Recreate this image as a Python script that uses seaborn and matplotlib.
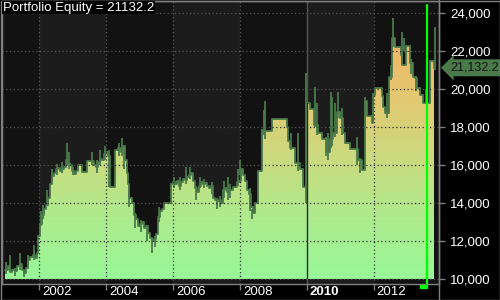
import numpy as np
import pandas as pd
import matplotlib
matplotlib.use("Agg")
import matplotlib.pyplot as plt
import seaborn as sns
from matplotlib.colors import LinearSegmentedColormap
from matplotlib.patches import Rectangle
from matplotlib.lines import Line2D
from matplotlib import transforms

# ---------------- data ----------------
years = [2000.97, 2001.06, 2001.12, 2001.18, 2001.27, 2001.33, 2001.42, 2001.48, 2001.54, 2001.60,
         2001.66, 2001.72, 2001.81, 2001.87, 2001.93, 2001.96, 2002.01, 2002.07, 2002.13, 2002.19,
         2002.25, 2002.31, 2002.37, 2002.43, 2002.49, 2002.55, 2002.61, 2002.67, 2002.73, 2002.79,
         2002.85, 2002.91, 2002.97, 2003.03, 2003.09, 2003.15, 2003.27, 2003.42, 2003.63, 2003.69,
         2003.75, 2003.81, 2003.87, 2003.93, 2003.99, 2004.05, 2004.11, 2004.26, 2004.35, 2004.44,
         2004.50, 2004.56, 2004.62, 2004.65, 2004.68, 2004.77, 2004.83, 2004.89, 2004.95, 2005.01,
         2005.07, 2005.13, 2005.19, 2005.25, 2005.30, 2005.36, 2005.42, 2005.48, 2005.54, 2005.60,
         2005.66, 2005.72, 2005.93, 2005.99, 2006.05, 2006.11, 2006.17, 2006.23, 2006.29, 2006.35,
         2006.41, 2006.47, 2006.53, 2006.59, 2006.65, 2006.71, 2006.77, 2006.83, 2006.89, 2006.95,
         2007.01, 2007.07, 2007.13, 2007.19, 2007.25, 2007.31, 2007.37, 2007.43, 2007.49, 2007.55,
         2007.61, 2007.67, 2007.79, 2007.90, 2007.96, 2008.02, 2008.08, 2008.14, 2008.20, 2008.26,
         2008.32, 2008.38, 2008.44, 2008.53, 2008.65, 2008.95, 2009.40, 2009.43, 2009.49, 2009.64,
         2009.79, 2009.88, 2010.00, 2010.09, 2010.21, 2010.33, 2010.45, 2010.60, 2010.69, 2010.78,
         2010.90, 2010.98, 2011.07, 2011.13, 2011.28, 2011.52, 2011.64, 2011.73, 2011.79, 2011.94,
         2011.97, 2012.03, 2012.24, 2012.27, 2012.33, 2012.45, 2012.54, 2012.63, 2012.81, 2012.84,
         2012.96, 2013.08, 2013.17, 2013.23, 2013.29, 2013.38, 2013.47, 2013.68, 2013.80]
equity = [10500, 10700, 10400, 10500, 10450, 10700, 10800, 10500, 10350, 10600,
          11000, 11150, 11300, 11100, 11400, 12300, 12900, 13400, 13700, 13900,
          14300, 15000, 15450, 15600, 15800, 15850, 15700, 15800, 15900, 16300,
          16100, 16000, 15700, 15550, 15700, 16000, 15650, 16250, 16000, 15900,
          16200, 16350, 16300, 16600, 16700, 16500, 14850, 16800, 16900, 16700,
          17000, 16300, 15600, 15000, 14300, 14000, 13400, 13200, 12800, 12900,
          13000, 12700, 12800, 12450, 12200, 12000, 12100, 12400, 13300, 13600,
          13700, 14000, 15000, 15100, 15000, 15200, 14900, 15100, 15300, 15250,
          15400, 15500, 15600, 15200, 14800, 14600, 14900, 15100, 15000, 15050,
          14900, 14800, 14900, 14300, 14200, 14100, 14200, 14000, 14700, 14800,
          14600, 14700, 14850, 15100, 15200, 15800, 15500, 15200, 14700, 14500,
          13800, 13500, 14000, 15700, 17800, 18450, 18000, 17300, 16900, 16100,
          15800, 14850, 19300, 18950, 18100, 17700, 17400, 16700, 17400, 17680,
          18800, 18500, 17680, 17200, 16840, 16300, 15740, 19400, 18600, 18250,
          19700, 20050, 19630, 19050, 18740, 20630, 22700, 22200, 21800, 21260,
          22300, 21370, 20630, 20580, 20050, 19680, 19260, 21470, 21132.2]

# intrabar ranges (dark green spikes)
spike_years = [2001.00, 2001.12, 2001.27, 2001.42, 2001.54, 2001.66, 2001.84, 2002.04, 2002.10, 2002.22,
               2002.37, 2002.52, 2002.67, 2002.82, 2002.88, 2003.00, 2003.57, 2003.72, 2003.81, 2003.96,
               2004.08, 2004.38, 2004.47, 2004.53, 2004.68, 2004.86, 2005.04, 2005.22, 2005.36, 2005.45,
               2005.57, 2006.02, 2006.20, 2006.38, 2006.50, 2006.68, 2006.80, 2006.92, 2007.16, 2007.30,
               2007.40, 2007.52, 2007.64, 2007.70, 2007.93, 2008.00, 2008.29, 2008.36, 2008.66, 2008.71,
               2008.74, 2009.52, 2009.74, 2009.96, 2010.24, 2010.30, 2010.56, 2010.63, 2010.72, 2010.75,
               2010.82, 2010.93, 2011.04, 2011.48, 2011.58, 2011.73, 2011.97, 2012.40, 2012.50, 2012.57,
               2012.83, 2012.90, 2013.10, 2013.27, 2013.56, 2013.82]
spike_low = [10300, 10400, 10200, 10500, 10100, 10600, 11000, 12800, 13200, 14000,
             15000, 15500, 15600, 16000, 15800, 15500, 16000, 15600, 16000, 16300,
             14850, 16500, 16500, 15800, 13800, 12700, 12500, 12000, 11400, 11700,
             13000, 14800, 14700, 15000, 15300, 14200, 14800, 14800, 14500, 13700,
             13800, 14300, 14200, 14300, 14900, 15500, 13600, 13200, 17000, 17600,
             17400, 16800, 15700, 14000, 18000, 17600, 16500, 16300, 16900, 17000,
             17500, 18500, 17600, 16000, 15600, 18000, 18200, 18500, 20500, 22200,
             21300, 22000, 20800, 19900, 19300, 21000]
spike_high = [10900, 11260, 10600, 11370, 10500, 11300, 11800, 13600, 13900, 14700,
              15800, 16050, 16200, 17200, 16700, 15900, 16700, 16300, 16800, 17000,
              16800, 17200, 17420, 16700, 14600, 13500, 13100, 12700, 12100, 12300,
              13800, 15400, 15400, 15900, 15900, 14900, 15400, 15300, 15100, 14300,
              14400, 15200, 15370, 15000, 15800, 16260, 14800, 13700, 17900, 18900,
              19400, 17700, 17680, 20840, 20100, 19300, 17500, 17700, 19840, 19600,
              19300, 19840, 19000, 17500, 16400, 19600, 19800, 19800, 21300, 23740,
              23000, 22700, 21600, 20700, 20000, 23260]

year_ticks = [2002, 2004, 2006, 2008, 2010, 2012]
value_ticks = [10000, 12000, 14000, 16000, 18000, 20000, 22000, 24000]
marker_year = 2013.57
last_value = 21132.2
title = "Portfolio Equity = 21132.2"

# ---------------- figure ----------------
sns.set_theme(style="dark")
plt.rcParams['font.family'] = ['Liberation Sans', 'DejaVu Sans']

fig = plt.figure(figsize=(5, 3), dpi=100, facecolor="black")
ax = fig.add_axes([1.5 / 500, 16 / 300, 437.5 / 500, 283 / 300])
ax.set_facecolor("#121212")
xmin, xmax = 2000.864, 2013.943
ax.set_xlim(xmin, xmax)
ax.set_ylim(9753, 24647)

# alternating two-year bands
for y0 in (2002, 2006, 2010):
    ax.axvspan(y0, y0 + 2, color="#1c1c1c", lw=0, zorder=0)

grid_kw = dict(lw=0.9, ls=(0, (1, 2)), zorder=0.5)
for v in value_ticks:
    ax.axhline(v, color="#555555", **grid_kw)
for yr in year_ticks:
    if yr == 2010:
        ax.axvline(yr, color="#555555", lw=1, zorder=0.5)
    else:
        ax.axvline(yr, color="#555555", **grid_kw)

# equity line + fill (gradient clipped to the step area)
df = pd.DataFrame({"year": years, "equity": equity})
spk = pd.DataFrame({"year": spike_years, "lo": spike_low, "hi": spike_high})
ax.vlines(spk["year"], spk["lo"], spk["hi"], color="#4a7a4a", lw=1.3, zorder=2)
poly = ax.fill_between(df["year"], 10000, df["equity"], step="post", facecolor="none", lw=0)
cmap = LinearSegmentedColormap.from_list("eq", [
    (0.0, "#98f898"), (0.214, "#acec8e"), (0.43, "#c8dc80"),
    (0.643, "#e0cc74"), (0.857, "#f0b868"), (1.0, "#f4b060")])
grad = np.linspace(0, 1, 256).reshape(-1, 1)
im = ax.imshow(grad, origin="lower", cmap=cmap, aspect="auto",
               extent=(xmin, xmax, 10000, 24000), zorder=1.5, interpolation="bilinear")
clip_path = poly.get_paths()[0]
im.set_clip_path(clip_path, transform=ax.transData)
ax.set_xlim(xmin, xmax)
ax.set_ylim(9753, 24647)
sns.lineplot(data=df, x="year", y="equity", drawstyle="steps-post", color="#4a7a4a",
             lw=1.3, estimator=None, sort=False, ax=ax, zorder=2.5)

# dark gridlines over the fill
for v in value_ticks:
    ln = ax.axhline(v, color="#2a2a2a", lw=0.9, ls=(0, (1, 2)), zorder=3)
    ln.set_clip_path(clip_path, transform=ax.transData)
for yr in year_ticks:
    ln = ax.axvline(yr, color="#2a2a2a", lw=0.9 if yr != 2010 else 1,
                    ls=(0, (1, 2)) if yr != 2010 else "-", zorder=3)
    ln.set_clip_path(clip_path, transform=ax.transData)

# current bar marker
ax.axvline(marker_year, ymin=0, ymax=0.985, color="#00ff00", lw=1.6, zorder=4)
trans_xa = transforms.blended_transform_factory(ax.transData, ax.transAxes)
ax.add_patch(Rectangle((marker_year - 0.2, -0.014), 0.2, 0.011, transform=trans_xa,
                       color="#00ff00", clip_on=False, zorder=4))

# axes styling
for side in ("left", "top", "right", "bottom"):
    ax.spines[side].set_visible(True)
    ax.spines[side].set_color("#808080")
    ax.spines[side].set_linewidth(1)
ax.grid(False)
ax.set_xlabel("")
ax.set_ylabel("")
ax.set_xticks(year_ticks)
ax.set_xticklabels([])
ax.tick_params(axis="x", direction="out", length=4, width=1, color="#808080", bottom=True)
ax.yaxis.tick_right()
ax.set_yticks(value_ticks)
ax.set_yticklabels([f"{v:,}" for v in value_ticks], color="white", fontsize=9.5)
ax.tick_params(axis="y", direction="out", length=4, width=1, color="#808080",
               right=True, left=False, pad=4)

for yr in year_ticks:
    ax.annotate(str(yr), xy=(yr, 0), xycoords=trans_xa, xytext=(2, -6),
                textcoords="offset points", ha="left", va="center", color="white",
                fontsize=9.5, fontweight="bold" if yr == 2010 else "normal",
                annotation_clip=False)

# last value tag
ax.annotate(f"{last_value:,.1f}", xy=(1, last_value),
            xycoords=("axes fraction", "data"), xytext=(8, 0), textcoords="offset points",
            ha="left", va="center", color="#111111", fontsize=9, annotation_clip=False,
            bbox=dict(boxstyle="larrow,pad=0.2", fc="#4a7a4a", ec="none"))

# title
fig.text(3 / 500, 1 - 1.5 / 300, title, ha="left", va="top", color="white", fontsize=9.5,
         bbox=dict(fc="black", ec="none", pad=0.6))

# frame lines
fig.add_artist(Line2D([439 / 500, 439 / 500], [0, 1], color="#808080", lw=1))
fig.add_artist(Rectangle((0.5 / 500, 0.5 / 300), 499 / 500, 299 / 300, fill=False,
                         ec="#808080", lw=1, transform=fig.transFigure))

fig.savefig("out.png", dpi=100, facecolor="black")
